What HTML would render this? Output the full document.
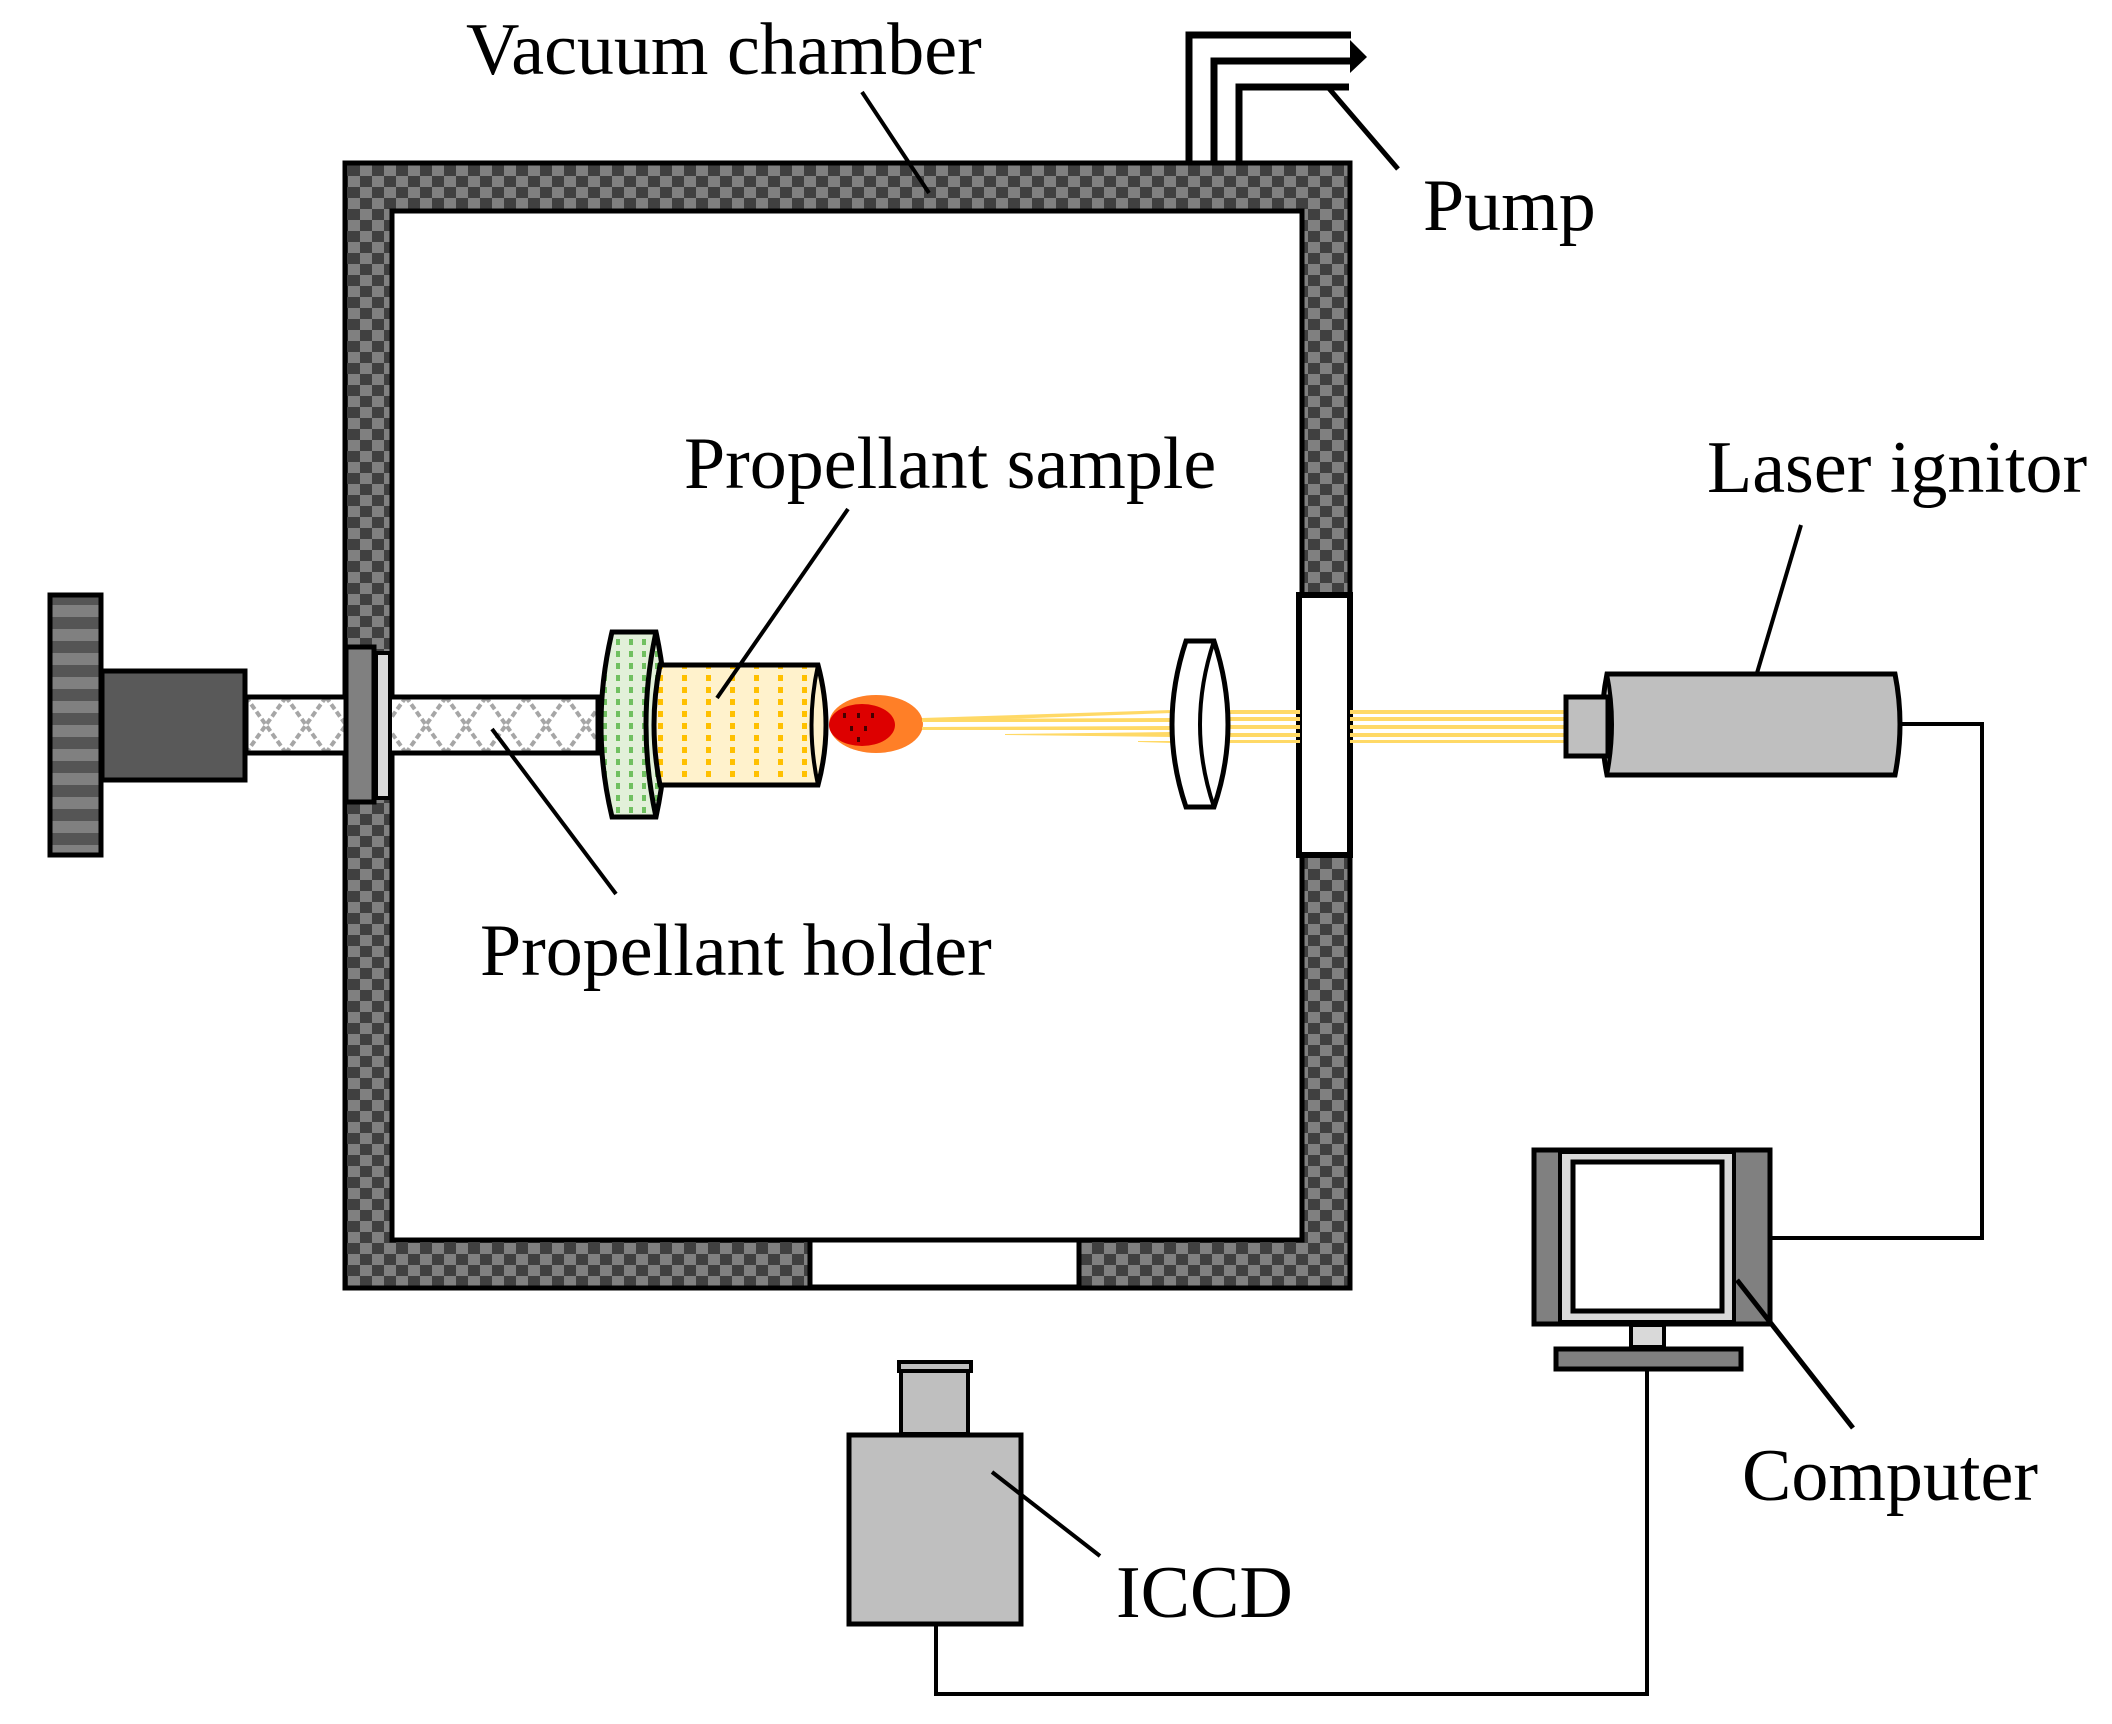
<!DOCTYPE html>
<html><head><meta charset="utf-8"><style>
html,body{margin:0;padding:0;background:#fff}
svg{display:block}
text{font-family:"Liberation Serif",serif;font-size:74px;fill:#000}
</style></head><body>
<svg width="2112" height="1724" viewBox="0 0 2112 1724" xmlns="http://www.w3.org/2000/svg">
<defs>
<pattern id="chk" width="24" height="22" patternUnits="userSpaceOnUse">
<rect width="24" height="22" fill="#808080"/>
<rect width="12" height="11" fill="#404040"/><rect x="12" y="11" width="12" height="11" fill="#404040"/>
</pattern>
<pattern id="hatch" width="40" height="56" patternUnits="userSpaceOnUse" x="246" y="697">
<rect width="40" height="56" fill="#fff"/>
<path d="M0 0 L40 56 M40 0 L0 56" stroke="#a6a6a6" stroke-width="4" stroke-dasharray="6 3"/>
</pattern>
<pattern id="knob" width="10" height="24" patternUnits="userSpaceOnUse" y="593">
<rect width="10" height="24" fill="#555"/><rect y="12" width="10" height="12" fill="#808080"/>
</pattern>
<pattern id="gdot" width="13" height="12" patternUnits="userSpaceOnUse">
<rect width="13" height="12" fill="#e2f0d9"/><rect x="5" y="3" width="4" height="6" fill="#70c060"/>
</pattern>
<pattern id="ydot" width="24" height="12" patternUnits="userSpaceOnUse">
<rect width="24" height="12" fill="#fff2cc"/><rect x="10" y="3" width="5" height="6" fill="#ffc000"/>
</pattern>
</defs>

<!-- chamber -->
<path d="M345 163 H1350 V1288 H345 Z M392 211 V1240 H1302 V211 Z" fill="url(#chk)" fill-rule="evenodd" stroke="#000" stroke-width="5"/>
<rect x="810" y="1240" width="269" height="47" fill="#fff" stroke="#000" stroke-width="5"/>
<rect x="1299" y="595" width="51" height="260" fill="#fff" stroke="#000" stroke-width="6"/>

<!-- pump pipes -->
<g fill="none" stroke="#000" stroke-width="7">
<path d="M1189 163 V35 H1351"/>
<path d="M1214 163 V61 H1352"/>
<path d="M1239 163 V87 H1349"/>
</g>
<path d="M1350 40 L1367 57 L1350 73 Z" fill="#000"/>
<line x1="1326" y1="85" x2="1398" y2="169" stroke="#000" stroke-width="5"/>

<!-- knob, motor -->
<rect x="50" y="595" width="51" height="260" fill="url(#knob)" stroke="#000" stroke-width="5"/>
<rect x="102" y="671" width="143" height="109" fill="#595959" stroke="#000" stroke-width="5"/>
<!-- shaft -->
<rect x="246" y="697" width="352" height="56" fill="url(#hatch)" stroke="#000" stroke-width="5"/>
<!-- flange -->
<rect x="346" y="647" width="28" height="155" fill="#808080" stroke="#000" stroke-width="5"/>
<rect x="376" y="653" width="14" height="145" fill="#d9d9d9" stroke="#000" stroke-width="4"/>

<!-- green disk -->
<path d="M612 632 H656 Q676 725 656 817 H612 Q590 725 612 632 Z" fill="url(#gdot)" stroke="#000" stroke-width="5"/>
<path d="M656 632 Q636 725 656 817" fill="none" stroke="#000" stroke-width="5"/>
<!-- yellow cylinder -->
<path d="M660 665 H818 Q834 725 818 785 H660 Q648 725 660 665 Z" fill="url(#ydot)" stroke="#000" stroke-width="5"/>
<path d="M818 665 Q805 725 818 785" fill="none" stroke="#000" stroke-width="4"/>

<!-- flame -->
<ellipse cx="876" cy="724" rx="47" ry="29" fill="#ff7f27"/>
<ellipse cx="862" cy="725" rx="33" ry="21" fill="#dd0000"/>
<g fill="#400"><rect x="843" y="713" width="3" height="5"/><rect x="857" y="713" width="3" height="5"/><rect x="871" y="713" width="3" height="5"/><rect x="850" y="726" width="3" height="5"/><rect x="864" y="726" width="3" height="5"/><rect x="857" y="737" width="3" height="5"/></g>

<!-- beams -->
<g fill="#ffd966">
<polygon points="922,718 1172,710 1172,713 922,722"/>
<polygon points="922,719 1172,718 1172,722 922,722"/>
<polygon points="922,727 1172,726 1172,730 922,730"/>
<polygon points="1005,734 1172,732 1172,737 1005,735"/>
<polygon points="1138,741 1172,741 1172,743 1138,742"/>
<rect x="1218" y="710" width="82" height="4"/><rect x="1218" y="717" width="82" height="4"/><rect x="1218" y="725" width="82" height="4"/><rect x="1218" y="733" width="82" height="4"/><rect x="1218" y="740" width="82" height="3"/>
<rect x="1350" y="710" width="215" height="4"/><rect x="1350" y="717" width="215" height="4"/><rect x="1350" y="725" width="215" height="4"/><rect x="1350" y="733" width="215" height="4"/><rect x="1350" y="740" width="215" height="3"/>
</g>

<!-- lens -->
<path d="M1186 641 H1214 Q1242 725 1214 807 H1186 Q1158 725 1186 641 Z" fill="#fff" stroke="#000" stroke-width="5"/>
<path d="M1214 641 Q1186 725 1214 807" fill="none" stroke="#000" stroke-width="4"/>

<!-- laser -->
<path d="M1607 674 H1895 Q1905 724 1895 775 H1607 Q1597 724 1607 674 Z" fill="#bfbfbf" stroke="#000" stroke-width="5"/>
<path d="M1607 674 Q1617 724 1607 775" fill="none" stroke="#000" stroke-width="4"/>
<rect x="1566" y="697" width="42" height="59" fill="#bfbfbf" stroke="#000" stroke-width="5"/>
<line x1="1801" y1="525" x2="1757" y2="673" stroke="#000" stroke-width="4"/>

<!-- wires -->
<path d="M1902 724 H1982 V1238 H1772" fill="none" stroke="#000" stroke-width="4"/>
<path d="M1647 1370 V1694 H936 V1625" fill="none" stroke="#000" stroke-width="4"/>

<!-- computer -->
<rect x="1534" y="1150" width="236" height="174" fill="#808080" stroke="#000" stroke-width="5"/>
<rect x="1560" y="1152" width="174" height="170" fill="#d9d9d9" stroke="#000" stroke-width="4"/>
<rect x="1573" y="1162" width="149" height="149" fill="#fff" stroke="#000" stroke-width="5"/>
<rect x="1631" y="1325" width="33" height="22" fill="#d9d9d9" stroke="#000" stroke-width="4"/>
<rect x="1556" y="1349" width="185" height="20" fill="#808080" stroke="#000" stroke-width="5"/>
<line x1="1737" y1="1280" x2="1853" y2="1428" stroke="#000" stroke-width="5"/>

<!-- ICCD -->
<rect x="849" y="1435" width="172" height="189" fill="#bfbfbf" stroke="#000" stroke-width="5"/>
<rect x="901" y="1371" width="67" height="63" fill="#bfbfbf" stroke="#000" stroke-width="4"/>
<rect x="899" y="1362" width="72" height="9" fill="#bfbfbf" stroke="#000" stroke-width="4"/>
<line x1="992" y1="1472" x2="1100" y2="1556" stroke="#000" stroke-width="4"/>

<!-- leaders -->
<line x1="862" y1="92" x2="929" y2="193" stroke="#000" stroke-width="4"/>
<line x1="848" y1="509" x2="717" y2="698" stroke="#000" stroke-width="4"/>
<line x1="492" y1="729" x2="616" y2="894" stroke="#000" stroke-width="4"/>

<!-- labels -->
<text x="466" y="74">Vacuum chamber</text>
<text x="1423" y="230">Pump</text>
<text x="684" y="488">Propellant sample</text>
<text x="1707" y="492">Laser ignitor</text>
<text x="480" y="975">Propellant holder</text>
<text x="1742" y="1500">Computer</text>
<text x="1116" y="1617">ICCD</text>
</svg>
</body></html>
